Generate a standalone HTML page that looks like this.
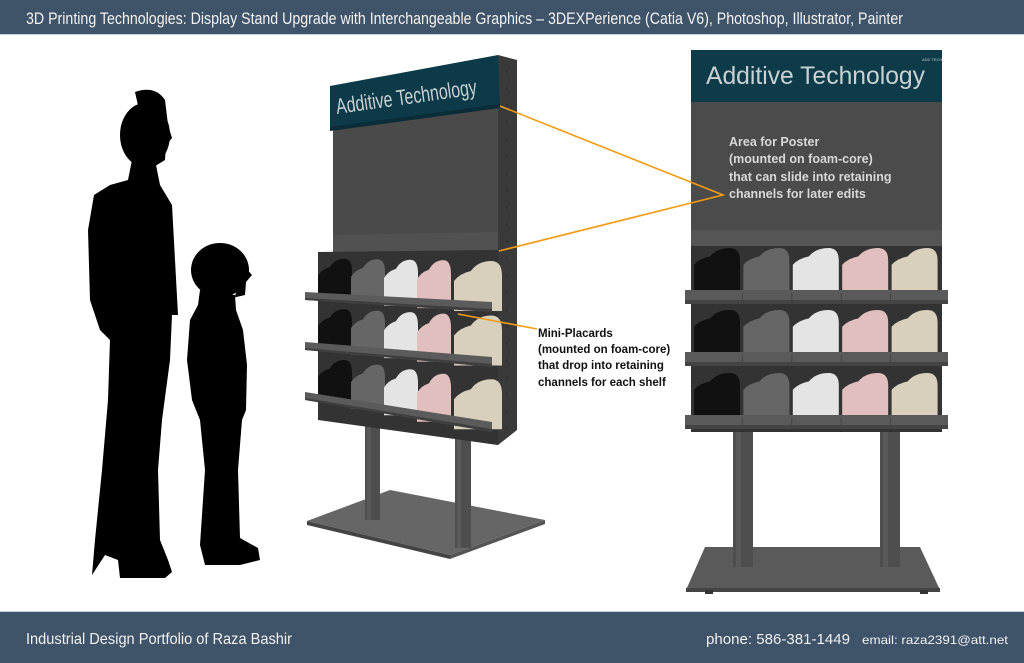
<!DOCTYPE html>
<html><head><meta charset="utf-8"><style>
html,body{margin:0;padding:0;background:#fff;}
svg{display:block;}
</style></head><body>
<svg id="s" width="1024" height="663" viewBox="0 0 1024 663" xmlns="http://www.w3.org/2000/svg">
<rect width="1024" height="663" fill="#fff"/>
<!-- header -->
<rect x="0" y="0" width="1024" height="34" fill="#3f5469"/>
<rect x="0" y="34" width="1024" height="1" fill="#c9d2dc"/>
<text x="26" y="24" font-family="Liberation Sans Narrow, Liberation Sans, sans-serif" font-size="17" fill="#f2f2f2" textLength="877" lengthAdjust="spacingAndGlyphs">3D Printing Technologies: Display Stand Upgrade with Interchangeable Graphics – 3DEXPerience (Catia V6), Photoshop, Illustrator, Painter</text>
<!-- footer -->
<rect x="0" y="612" width="1024" height="51" fill="#3f5469"/>
<rect x="0" y="611" width="1024" height="1" fill="#c9d2dc"/>
<text x="26" y="644" font-family="Liberation Sans Narrow, Liberation Sans, sans-serif" font-size="16" fill="#f0f0f0" textLength="266" lengthAdjust="spacingAndGlyphs">Industrial Design Portfolio of Raza Bashir</text>
<text x="706" y="644" font-family="Liberation Sans Narrow, Liberation Sans, sans-serif" font-size="15" fill="#f0f0f0" textLength="144" lengthAdjust="spacingAndGlyphs">phone:  586-381-1449</text>
<text x="862" y="644" font-family="Liberation Sans Narrow, Liberation Sans, sans-serif" font-size="12" fill="#f0f0f0" textLength="146" lengthAdjust="spacingAndGlyphs">email: raza2391@att.net</text>

<!-- silhouettes -->
<g fill="#000">
 <ellipse cx="145" cy="135" rx="25" ry="32"/>
 <path d="M135 92 Q155 85 165 100 L168 125 L172 138 L166 145 L165 160 L152 168 Z"/>
 <path d="M132 160 L156 165 L160 185 L172 205 L175 260 L178 315 L172 315 L170 360 L162 420 L158 470 L160 540 L168 560 L172 572 L165 578 L120 578 L118 560 L105 555 L92 575 L95 540 L102 470 L108 400 L110 340 L100 330 L90 300 L88 230 L94 195 L110 185 L128 180 Z"/>
 <ellipse cx="220" cy="270" rx="29" ry="27"/>
 <path d="M243 265 L252 275 L246 282 L245 295 L232 298 L232 308 Z"/>
 <path d="M200 290 L235 295 L236 310 L243 330 L247 365 L246 410 L242 420 L238 470 L240 538 L258 548 L260 560 L240 565 L205 565 L200 545 L205 470 L200 420 L192 400 L187 360 L190 320 L198 305 Z"/>
</g>

<!-- middle stand -->
<g>
 <polygon points="307,521 390,490 545,520 450,555" fill="#666"/>
 <polygon points="307,521 450,555 450,559 307,525" fill="#444"/>
 <polygon points="450,555 545,520 545,524 450,559" fill="#555"/>
 <rect x="365" y="415" width="15" height="105" fill="#4e4e4e"/>
 <rect x="367" y="415" width="4" height="105" fill="#5a5a5a"/>
 <rect x="455" y="430" width="16" height="118" fill="#4e4e4e"/>
 <rect x="457" y="430" width="4" height="118" fill="#5c5c5c"/>
 <polygon points="498,55 517,60 517,430 498,445" fill="#3a3a3a"/>
 <line x1="507" y1="70" x2="507" y2="430" stroke="#2a2a2a" stroke-width="1" stroke-dasharray="3,14"/>
 <polygon points="333,128 498,105 498,445 333,420" fill="#4a4a4a"/>
 <polygon points="333,235 498,232 498,250 333,252" fill="#515151"/>
 <polygon points="318,252 498,250 498,445 318,420" fill="#333"/>
 <polygon points="330,86 498,55 500,107 330,130" fill="#0c3a48"/>
 <polygon points="330,127 500,104 500,108 330,131" fill="#0a2d38"/>
 <text x="0" y="0" transform="translate(337,114) rotate(-8)" font-family="Liberation Sans Narrow, Liberation Sans, sans-serif" font-size="22" fill="#c7d0d2" textLength="142" lengthAdjust="spacingAndGlyphs">Additive Technology</text>
 <g id="midrows"></g>
</g>

<!-- right stand -->
<g>
 <polygon points="705,547 920,547 940,590 686,590" fill="#5a5a5a"/>
 <rect x="686" y="588" width="254" height="4" fill="#444"/>
 <rect x="705" y="590" width="8" height="4" fill="#333"/>
 <rect x="920" y="590" width="8" height="4" fill="#333"/>
 <rect x="733" y="430" width="20" height="137" fill="#4e4e4e"/>
 <rect x="736" y="430" width="5" height="137" fill="#595959"/>
 <rect x="880" y="430" width="20" height="137" fill="#4e4e4e"/>
 <rect x="883" y="430" width="5" height="137" fill="#595959"/>
 <rect x="691" y="102" width="251" height="128" fill="#4b4b4c"/>
 <rect x="691" y="230" width="251" height="16" fill="#555"/>
 <rect x="691" y="246" width="251" height="186" fill="#333"/>
 <rect x="691" y="50" width="251" height="52" fill="#0d3b49"/>
 <text x="706" y="84" font-family="Liberation Sans, sans-serif" font-size="25" fill="#c9d1d3" textLength="219" lengthAdjust="spacingAndGlyphs">Additive Technology</text>
 <text x="922" y="61" font-family="Liberation Sans, sans-serif" font-size="4" fill="#ccc">ADD TECH</text>
 <g font-family="Liberation Sans, sans-serif" font-weight="bold" font-size="12.5" fill="#d8d8d8">
  <text x="729" y="146">Area for Poster</text>
  <text x="729" y="163">(mounted on foam-core)</text>
  <text x="729" y="181">that can slide into retaining</text>
  <text x="729" y="198">channels for later edits</text>
 </g>
 <g id="rightrows"></g>
</g>

<g stroke="#f39c12" stroke-width="1.6" fill="none">
 <polyline points="500,106 723,195 499,251"/>
 <line x1="458" y1="314" x2="537" y2="329"/>
</g>
<g font-family="Liberation Sans, sans-serif" font-weight="bold" font-size="11.5" fill="#111">
 <text x="538" y="337">Mini-Placards</text>
 <text x="538" y="353">(mounted on foam-core)</text>
 <text x="538" y="369">that drop into retaining</text>
 <text x="538" y="386">channels for each shelf</text>
</g>
</svg>
<script>
var cols=["#111111","#666666","#e4e4e4","#e2bfbf","#d8cfbd"];
function blob(x,y,w,h,c){
 return '<path d="M'+x+' '+(y+h)+' L'+x+' '+(y+0.4*h)+' Q'+(x+0.12*w)+' '+(y+0.25*h)+' '+(x+0.35*w)+' '+(y+0.2*h)+' Q'+(x+0.5*w)+' '+y+' '+(x+0.78*w)+' '+y+' Q'+(x+w)+' '+y+' '+(x+w)+' '+(y+0.3*h)+' L'+(x+w)+' '+(y+h)+' Z" fill="'+c+'"/>';
}
var r='';
[[248,42],[310,42],[373,42]].forEach(function(row){
 for(var i=0;i<5;i++){r+=blob(694+i*49.4,row[0],46,row[1],cols[i]);}
 var sy=row[0]+row[1];
 r+='<rect x="685" y="'+sy+'" width="263" height="14" fill="#5a5a5a"/><rect x="685" y="'+(sy+10)+'" width="263" height="4" fill="#444"/>';
 for(var i=1;i<5;i++){r+='<line x1="'+(693+i*49.4)+'" y1="'+(sy+3)+'" x2="'+(693+i*49.4)+'" y2="'+(sy+10)+'" stroke="#444"/>';}
});
document.getElementById('rightrows').innerHTML=r;
var m='';
[[300,312],[350,367],[400,432]].forEach(function(row){
 var yl=row[0],yr=row[1];
 for(var i=0;i<5;i++){
  var x=318+i*33+(i>3?4:0), w=34+(i==4?14:0);
  var t=(x-308)/160, base=yl+(yr-yl)*t;
  var h=42+i*2;
  m+=blob(x,base-h,w,h,cols[i]);
 }
 m+='<polygon points="305,'+(yl-8)+' 492,'+(yr-10)+' 492,'+yr+' 305,'+yl+'" fill="#5b5b5b"/>';
 m+='<polygon points="305,'+(yl-2)+' 492,'+(yr-3)+' 492,'+yr+' 305,'+yl+'" fill="#3f3f3f"/>';
});
document.getElementById('midrows').innerHTML=m;
</script>
</body></html>
